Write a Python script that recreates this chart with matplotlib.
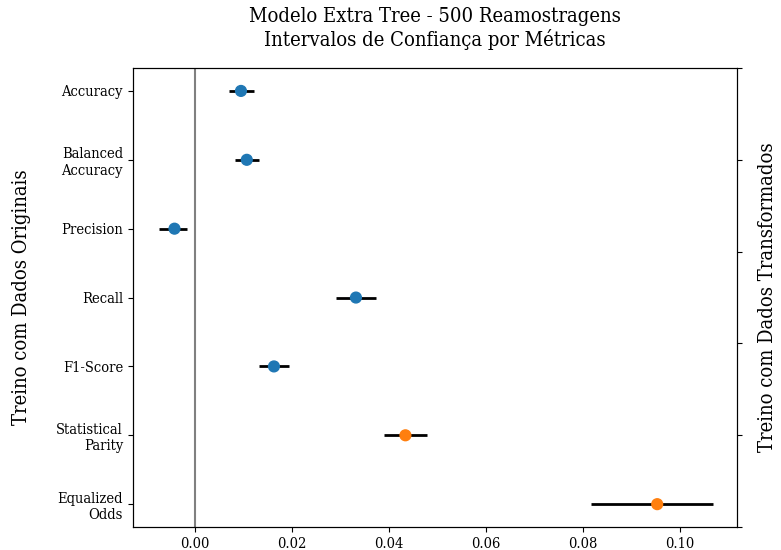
import matplotlib
matplotlib.use("Agg")
from matplotlib import pyplot as plt

plt.rcParams['font.family'] = ['DejaVu Serif']
plt.rcParams['font.stretch'] = 'condensed'

metricas = ["Accuracy", "Balanced\nAccuracy", "Precision", "Recall",
            "F1-Score", "Statistical\nParity", "Equalized\nOdds"]
media = [0.0095, 0.0107, -0.0042, 0.0332, 0.0163, 0.0434, 0.0953]
ic_inf = [0.0070, 0.0082, -0.0073, 0.0291, 0.0133, 0.0389, 0.0816]
ic_sup = [0.0121, 0.0133, -0.0017, 0.0374, 0.0193, 0.0479, 0.1068]
cores = ['#1f77b4'] * 5 + ['#ff7f0e'] * 2

fig = plt.figure(figsize=(7.81, 5.5), dpi=100)
ax = fig.add_axes([0.170, 0.042, 0.774, 0.834])

pos = list(range(len(metricas)))
ax.axvline(0, color='gray', linewidth=1.5, zorder=1)
ax.hlines(pos, ic_inf, ic_sup, color='black', linewidth=2, zorder=2)
ax.scatter(media, pos, c=cores, s=60, zorder=3)

ax.set_yticks(pos)
ax.set_yticklabels(metricas, fontsize=10.5)
ax.set_ylim(6.33, -0.33)
ax.set_xlim(-0.0128, 0.1118)
ax.set_xticks([0.00, 0.02, 0.04, 0.06, 0.08, 0.10])
ax.set_xticklabels(['0.00', '0.02', '0.04', '0.06', '0.08', '0.10'], fontsize=10.5)
ax.set_ylabel('Treino com Dados Originais', fontsize=14.5, labelpad=18)

ax2 = ax.twinx()
ax2.set_ylim(0, 1)
ax2.set_yticks([0, 0.2, 0.4, 0.6, 0.8, 1.0])
ax2.set_yticklabels([])
ax2.set_ylabel('Treino com Dados Transformados', fontsize=14.5, labelpad=8)

ax.set_title('Modelo Extra Tree - 500 Reamostragens\nIntervalos de Confiança por Métricas',
             fontsize=14.5, pad=16)

fig.savefig('out.png', dpi=100)
